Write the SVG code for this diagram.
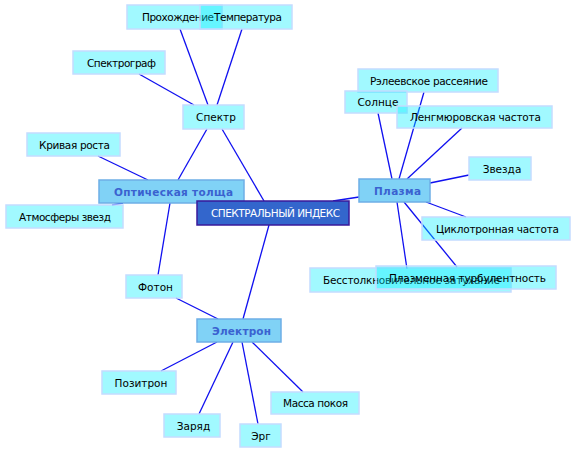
<svg xmlns="http://www.w3.org/2000/svg" width="576" height="454" viewBox="0 0 576 454">
<style>
.bg{fill:#ffffff}
.lk line{stroke:#1010f0;stroke-width:1.3}
.n rect{fill:rgb(0,240,255);fill-opacity:0.37;stroke:#c4dcff;stroke-width:1.5}
.n text{font-family:"DejaVu Sans",sans-serif;font-size:10.5px;fill:#000;text-anchor:middle}
.m rect{fill:#80d2f6;stroke:#6eaee6;stroke-width:1.5}
.m text{font-family:"DejaVu Sans",sans-serif;font-size:10.5px;font-weight:bold;fill:#3a62d0;text-anchor:middle}
.c rect{fill:#3366cc;stroke:#3a1a9a;stroke-width:1.5}
.c text{font-family:"DejaVu Sans",sans-serif;font-size:10.5px;fill:#ffffff;text-anchor:middle}
</style>
<rect class="bg" width="576" height="454"/>
<g id="connectors" class="lk">
<line x1="180" y1="29" x2="208" y2="105"/>
<line x1="242" y1="29" x2="217" y2="105"/>
<line x1="139" y1="74" x2="194" y2="105"/>
<line x1="207" y1="129" x2="178" y2="180"/>
<line x1="222" y1="129" x2="264" y2="201"/>
<line x1="98" y1="156" x2="148" y2="180"/>
<line x1="112" y1="205" x2="123" y2="203"/>
<line x1="170" y1="203" x2="158" y2="275"/>
<line x1="176" y1="298" x2="218" y2="319"/>
<line x1="269" y1="225" x2="243" y2="319"/>
<line x1="217" y1="342" x2="161" y2="371"/>
<line x1="233" y1="342" x2="199" y2="414"/>
<line x1="242" y1="342" x2="258" y2="424"/>
<line x1="252" y1="342" x2="303" y2="392"/>
<line x1="333" y1="201" x2="359" y2="197"/>
<line x1="378" y1="113" x2="392" y2="179"/>
<line x1="424" y1="92" x2="399" y2="179"/>
<line x1="462" y1="128" x2="407" y2="179"/>
<line x1="469" y1="175" x2="430" y2="183"/>
<line x1="426" y1="202" x2="466" y2="217"/>
<line x1="397" y1="202" x2="407" y2="269"/>
<line x1="404" y1="202" x2="457" y2="267"/>
</g>
<g id="n-prohozhdenie" class="n"><rect x="127" y="5" width="95" height="24"/><text x="178" y="21" textLength="72">Прохождение</text></g>
<g id="n-temperatura" class="n"><rect x="200" y="5" width="92" height="24"/><text x="248" y="21" textLength="68">Температура</text></g>
<g id="n-spektrograf" class="n"><rect x="73" y="51" width="92" height="23"/><text x="121.5" y="67" textLength="69">Спектрограф</text></g>
<g id="n-spektr" class="n"><rect x="183" y="105" width="61" height="24"/><text x="216" y="121">Спектр</text></g>
<g id="n-krivaya" class="n"><rect x="27" y="133" width="93" height="23"/><text x="74.5" y="149" textLength="71">Кривая роста</text></g>
<g id="n-atmosfery" class="n"><rect x="6" y="205" width="117" height="23"/><text x="65" y="221" textLength="92">Атмосферы звезд</text></g>
<g id="n-opticheskaya" class="m"><rect x="99" y="180" width="145" height="23"/><text x="173.5" y="195.5" textLength="119">Оптическая толща</text></g>
<g id="n-center" class="c"><rect x="197" y="201" width="152" height="24"/><text x="275.5" y="217" textLength="129">СПЕКТРАЛЬНЫЙ ИНДЕКС</text></g>
<g id="n-releevskoe" class="n"><rect x="358" y="69" width="140" height="23"/><text x="429" y="85" textLength="118">Рэлеевское рассеяние</text></g>
<g id="n-solnce" class="n"><rect x="345" y="91" width="62" height="22"/><text x="378" y="106">Солнце</text></g>
<g id="n-lengmyur" class="n"><rect x="397" y="106" width="155" height="22"/><text x="475.5" y="121" textLength="131">Ленгмюровская частота</text></g>
<g id="n-zvezda" class="n"><rect x="469" y="157" width="62" height="23"/><text x="502" y="173">Звезда</text></g>
<g id="n-plazma" class="m"><rect x="359" y="179" width="71" height="23"/><text x="397.5" y="194.5" textLength="47">Плазма</text></g>
<g id="n-ciklotron" class="n"><rect x="422" y="217" width="148" height="23"/><text x="497.5" y="233" textLength="123">Циклотронная частота</text></g>
<g id="n-besstolk" class="n"><rect x="310" y="268" width="201" height="24"/><text x="411.5" y="284" textLength="177">Бесстолкновительное затухание</text></g>
<g id="n-turbul" class="n"><rect x="376" y="266" width="180" height="23"/><text x="467.5" y="282" textLength="157">Плазменная турбулентность</text></g>
<g id="n-foton" class="n"><rect x="126" y="275" width="56" height="23"/><text x="155.5" y="291">Фотон</text></g>
<g id="n-elektron" class="m"><rect x="197" y="319" width="84" height="23"/><text x="241.5" y="334.5" textLength="59">Электрон</text></g>
<g id="n-pozitron" class="n"><rect x="102" y="371" width="74" height="23"/><text x="141" y="387">Позитрон</text></g>
<g id="n-massa" class="n"><rect x="271" y="392" width="88" height="22"/><text x="315.5" y="407" textLength="65">Масса покоя</text></g>
<g id="n-zaryad" class="n"><rect x="164" y="414" width="56" height="23"/><text x="193.5" y="430">Заряд</text></g>
<g id="n-erg" class="n"><rect x="240" y="424" width="41" height="23"/><text x="261" y="440">Эрг</text></g>
</svg>
